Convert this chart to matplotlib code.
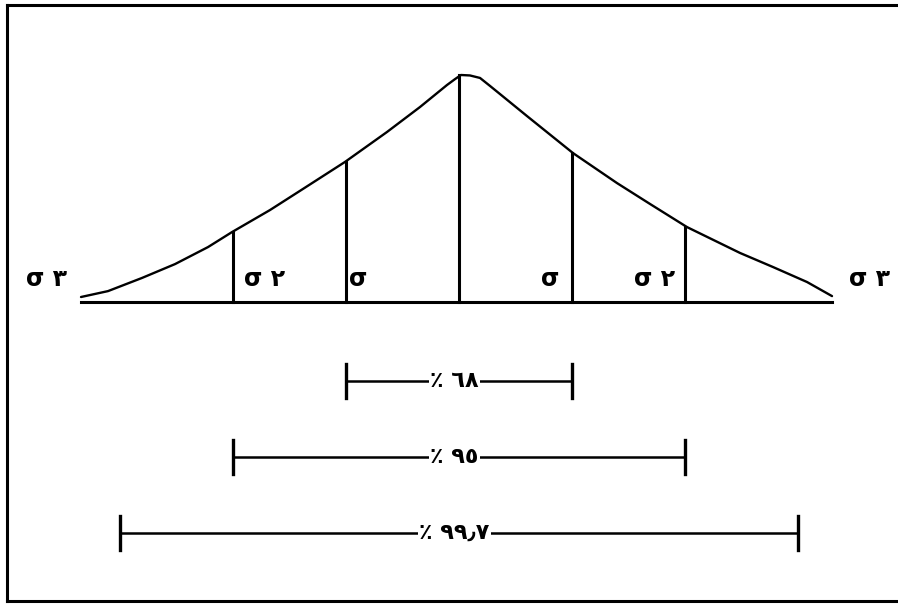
import matplotlib.pyplot as plt
from matplotlib.lines import Line2D

# curve: x in sigma units, y as a fraction of the peak
curve_x = [-3.345, -3.106, -2.805, -2.513, -2.221, -2.009, -1.673, -1.381,
           -1.009, -0.637, -0.345, -0.106, -0.035, 0.018, 0.097, 0.186,
           0.274, 0.363, 0.602, 1.009, 1.398, 1.690, 2.018, 2.487,
           2.779, 3.080, 3.301]
curve_y = [0.022, 0.048, 0.106, 0.167, 0.242, 0.308, 0.405, 0.498,
           0.617, 0.749, 0.859, 0.956, 0.982, 1.0, 0.998, 0.987,
           0.952, 0.916, 0.819, 0.656, 0.524, 0.432, 0.330, 0.216,
           0.154, 0.088, 0.026]

# vertical marks under the curve and their heights
marks = [-2, -1, 0, 1, 2]
mark_tops = [0.308, 0.617, 1.0, 0.656, 0.330]

side_labels = ['σ ٣', 'σ ٢', 'σ', 'σ', 'σ ٢', 'σ ٣']
label_x = [-3.345, -2, -1, 1, 2, 3.301]

spans = [1, 2, 3]
span_labels = ['٪ ٦٨', '٪ ٩٥', '٪ ٩٩٫٧']

plt.rcParams['font.family'] = ['DejaVu Sans']

fig = plt.figure(figsize=(8.98, 6.04), dpi=100)
ax = fig.add_axes([0, 0, 1, 1])
ax.axis('off')
# 459 px = centre, 113 px per sigma, baseline at 302 px, peak 227 px high
ax.set_xlim(-459 / 113.0, (898 - 459) / 113.0)
ax.set_ylim(-302 / 227.0, 302 / 227.0)

ax.plot(curve_x, curve_y, color='k', lw=1.7, solid_joinstyle='round',
        solid_capstyle='round')
ax.plot([curve_x[0], curve_x[-1]], [0, 0], color='k', lw=2.2)
for m, top in zip(marks, mark_tops):
    ax.plot([m, m], [0, top], color='k', lw=2.2)

# sigma labels: outer ones beyond the curve ends, inner ones beside the marks
offsets = [-10, 8, 2, -9, -7, 12]
aligns = ['right', 'left', 'left', 'right', 'right', 'left']
for txt, x, dx, ha in zip(side_labels, label_x, offsets, aligns):
    ax.annotate(txt, (x, 0.10), xytext=(dx, 0), textcoords='offset points',
                ha=ha, va='center', fontsize=17, fontweight='bold')

# range bars
rows = [-0.348, -0.683, -1.018]
cap = 0.075
for s, lab, y in zip(spans, span_labels, rows):
    ax.plot([-s, s], [y, y], color='k', lw=1.8)
    ax.plot([-s, -s], [y - cap, y + cap], color='k', lw=2.4)
    ax.plot([s, s], [y - cap, y + cap], color='k', lw=2.4)
    ax.text(-0.04, y, lab, ha='center', va='center', fontsize=16,
            fontweight='bold',
            bbox=dict(facecolor='white', edgecolor='none', pad=1.0))

# frame (left, top, bottom only)
fx = 7 / 898.0
ft = 1 - 5 / 604.0
fb = 1 - 601 / 604.0
for xs, ys in [([fx, fx], [fb, ft]), ([fx, 1], [ft, ft]), ([fx, 1], [fb, fb])]:
    fig.add_artist(Line2D(xs, ys, color='k', lw=2.2, transform=fig.transFigure))

fig.savefig('out.png', dpi=100)
